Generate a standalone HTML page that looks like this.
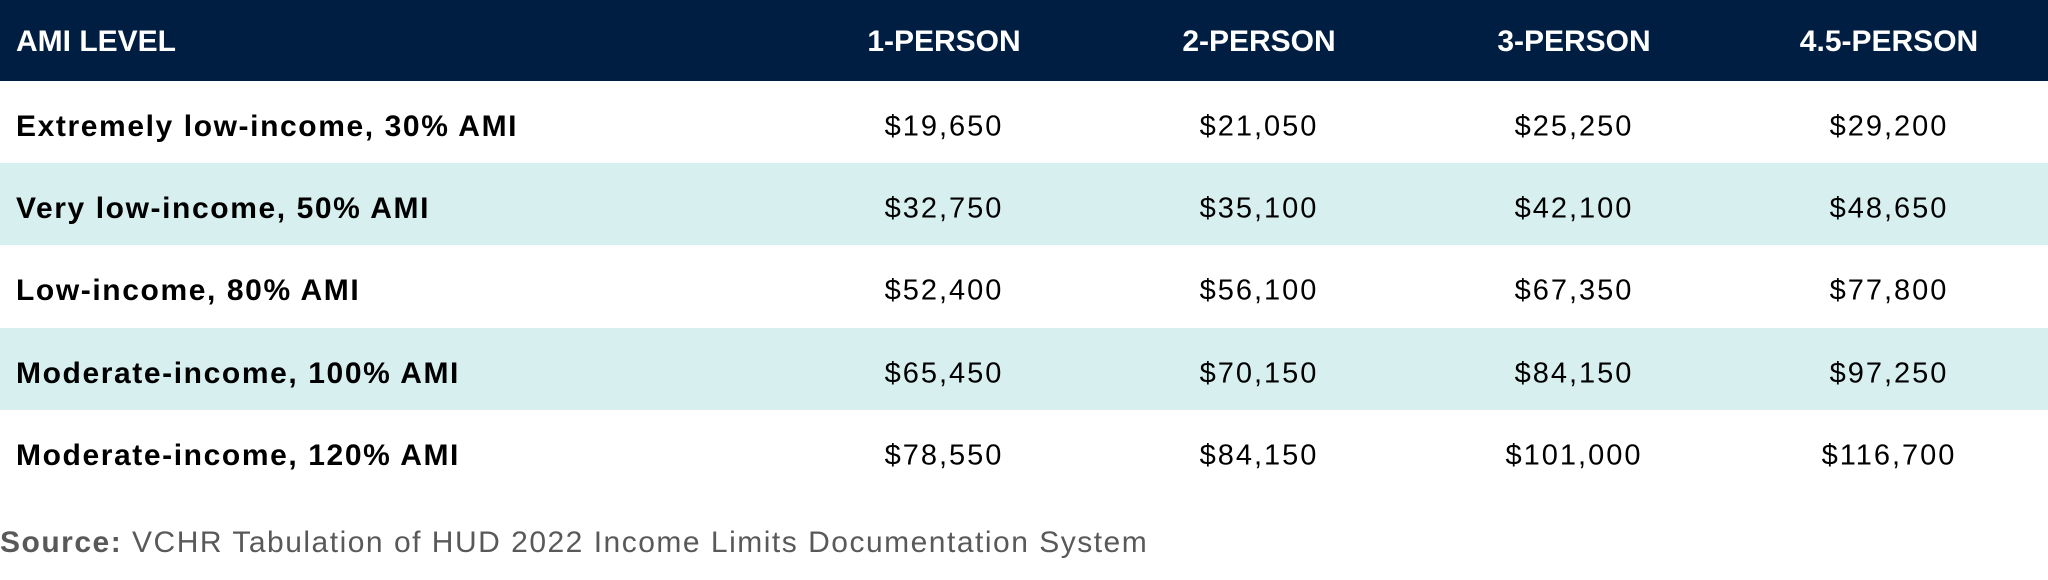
<!DOCTYPE html>
<html><head><meta charset="utf-8"><style>
body{margin:0;width:2048px;height:580px;background:#fff;font-family:"Liberation Sans",sans-serif;overflow:hidden;position:relative}
.hdr{position:absolute;left:0;top:0;width:2048px;height:81px;background:#001e42}
.row{position:absolute;left:0;width:2048px;height:82px}
.t{position:absolute;transform:translate(-50%,-50%);white-space:nowrap}
.lbl{position:absolute;left:16px;transform:translateY(-50%);font-weight:bold;font-size:30px;color:#000;white-space:nowrap;letter-spacing:1.6px}
.h{color:#fff !important;font-weight:bold;font-size:30px;letter-spacing:0}
.v{font-size:29px;color:#000;letter-spacing:2px}
#src{position:absolute;left:0;top:526px;font-size:30px;color:#595959;white-space:nowrap;letter-spacing:1.5px}
</style></head><body>
<div class="hdr"></div>
<div id="tbl"></div>
<div id="src"><b>Source:</b> VCHR Tabulation of HUD 2022 Income Limits Documentation System</div>
<script>
const columns=["1-PERSON","2-PERSON","3-PERSON","4.5-PERSON"];
const levels=["Extremely low-income, 30% AMI","Very low-income, 50% AMI","Low-income, 80% AMI","Moderate-income, 100% AMI","Moderate-income, 120% AMI"];
const person1=["$19,650","$32,750","$52,400","$65,450","$78,550"];
const person2=["$21,050","$35,100","$56,100","$70,150","$84,150"];
const person3=["$25,250","$42,100","$67,350","$84,150","$101,000"];
const person45=["$29,200","$48,650","$77,800","$97,250","$116,700"];
const series=[person1,person2,person3,person45];
const colX=[944,1259,1574,1889];
const tbl=document.getElementById('tbl');
function add(cls,txt,x,y,name){
  const d=document.createElement('div');
  d.className=cls;d.textContent=txt;
  if(x!==null)d.style.left=x+'px';
  d.style.top=y+'px';
  
  
  document.body.appendChild(d);return d;
}
add('lbl h','AMI LEVEL',null,42,'header-ami-level');
columns.forEach((c,i)=>{add('t h',c,colX[i],42,'header-'+c.toLowerCase());});
levels.forEach((l,r)=>{
  const top=81+r*82.2;
  const bg=document.createElement('div');
  bg.className='row';bg.style.top=top+'px';
  bg.style.background=r%2?'#d7f0ef':'#fff';
  
  
  tbl.appendChild(bg);
  const cy=top+46;
  add('lbl',l,null,cy,'row-label');
  series.forEach((s,i)=>{add('t v',s[r],colX[i],cy,'cell-value');});
});
</script>
</body></html>
